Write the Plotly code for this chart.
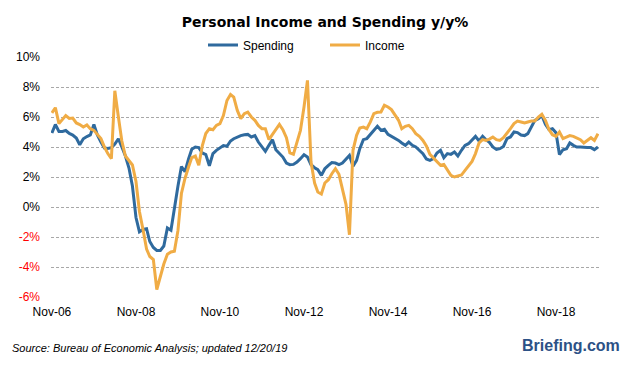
import pandas as pd
import plotly.graph_objects as go

# Monthly observations, Nov-2006 .. Nov-2019
months = pd.date_range("2006-11-01", "2019-11-01", freq="MS")

spending = [
    4.93, 5.5, 5.04, 5.04, 5.1, 4.9, 4.8, 4.6, 4.15, 4.55,
    4.7, 4.8, 5.5, 4.8, 4.33, 3.93, 3.9, 3.95, 4.2, 4.55,
    4.0, 3.4, 2.6, 1.4, -0.7, -1.65, -1.5, -1.45, -2.3, -2.7,
    -2.9, -2.9, -2.6, -1.4, -1.55, 0.0, 1.4, 2.7, 2.35, 3.2,
    3.85, 4.0, 3.96, 3.6, 3.5, 2.75, 3.56, 3.78, 3.96, 4.1,
    4.05, 4.4, 4.55, 4.67, 4.76, 4.82, 4.84, 4.67, 4.76, 4.33,
    4.0, 3.71, 4.11, 4.49, 3.82, 3.6, 3.33, 2.93, 2.82, 2.84,
    3.0, 3.22, 3.49, 3.33, 2.82, 2.62, 2.49, 2.11, 2.55, 2.78,
    2.96, 2.93, 2.82, 2.93, 3.22, 3.44, 2.71, 3.11, 3.89, 4.49,
    4.56, 4.84, 5.11, 5.38, 5.11, 5.18, 4.84, 4.71, 4.6, 4.44,
    4.27, 4.11, 4.33, 4.11, 4.0, 3.78, 3.56, 3.2, 3.11, 3.22,
    3.6, 3.78, 3.29, 3.56, 3.51, 3.67, 3.4, 3.78, 4.11, 4.22,
    4.44, 4.71, 4.4, 4.71, 4.49, 4.31, 4.0, 3.84, 3.89, 4.04,
    4.56, 4.67, 5.0, 4.96, 4.8, 4.76, 4.89, 5.33, 5.78, 5.89,
    6.11, 5.51, 5.16, 5.22, 4.95, 3.5, 3.82, 3.89, 4.27, 4.11,
    4.0, 4.0, 3.96, 3.96, 3.96, 3.82, 4.0,
]

income = [
    6.27, 6.62, 5.56, 5.82, 6.1, 5.9, 5.93, 5.6, 5.5, 5.33,
    5.47, 5.22, 5.11, 4.84, 4.56, 4.0, 3.56, 3.22, 7.75, 6.0,
    4.4, 3.4, 3.1, 2.8, 1.7, -0.3, -1.5, -2.8, -3.3, -3.5,
    -5.5, -4.56, -3.8, -3.15, -3.0, -2.95, -1.56, 0.9, 1.9, 2.67,
    3.3, 3.4, 2.78, 4.1, 4.9, 5.22, 5.15, 5.44, 5.56, 6.1,
    7.1, 7.5, 7.33, 6.44, 5.89, 6.22, 6.33, 6.0, 5.78, 5.44,
    5.22, 5.22, 4.49, 4.84, 5.18, 5.51, 5.16, 4.62, 3.6, 3.51,
    4.33, 5.11, 6.67, 8.44, 3.0, 1.6, 1.0, 0.87, 1.6, 1.82,
    2.22, 2.56, 2.18, 1.11, 0.18, -1.85, 3.78, 4.78, 5.27, 5.33,
    5.22, 5.67, 6.22, 6.31, 6.33, 6.78, 6.67, 6.49, 6.11, 5.78,
    5.22, 5.38, 5.44, 5.22, 4.89, 4.71, 4.44, 4.07, 3.51, 3.29,
    3.04, 2.78, 2.84, 2.44, 2.11, 2.0, 2.07, 2.13, 2.44, 2.73,
    3.04, 3.56, 4.27, 4.49, 4.44, 4.53, 4.67, 4.49, 4.44, 4.62,
    4.89, 5.22, 5.56, 5.73, 5.67, 5.6, 5.67, 5.73, 5.73, 6.0,
    6.18, 5.78, 5.16, 4.82, 4.71, 5.0, 4.56, 4.67, 4.76, 4.71,
    4.62, 4.49, 4.27, 4.44, 4.62, 4.44, 4.89,
]

x_tick_dates = ["2006-11-01", "2008-11-01", "2010-11-01", "2012-11-01",
                "2014-11-01", "2016-11-01", "2018-11-01"]
x_tick_labels = ["Nov-06", "Nov-08", "Nov-10", "Nov-12", "Nov-14", "Nov-16", "Nov-18"]
y_tick_vals = [-6, -4, -2, 0, 2, 4, 6, 8, 10]
y_tick_labels = ["<span style='color:#ff0000'>-6%</span>",
                 "<span style='color:#ff0000'>-4%</span>",
                 "<span style='color:#ff0000'>-2%</span>",
                 "0%", "2%", "4%", "6%", "8%", "10%"]

BLUE = "#2f6a9e"
ORANGE = "#f0ac45"

fig = go.Figure()
fig.add_trace(go.Scatter(x=months, y=spending, name="Spending", mode="lines",
                         line=dict(color=BLUE, width=3)))
fig.add_trace(go.Scatter(x=months, y=income, name="Income", mode="lines",
                         line=dict(color=ORANGE, width=3)))

fig.update_layout(
    width=626, height=367,
    margin=dict(l=51, r=27, t=57, b=70, autoexpand=False),
    paper_bgcolor="white", plot_bgcolor="white",
    font=dict(family="Liberation Sans, Arial, sans-serif", size=12, color="#000000"),
    title=dict(text="<b>Personal Income and Spending y/y%</b>",
               x=0.5, xanchor="center", xref="paper",
               y=1 - 22 / 367, yanchor="middle", yref="container",
               font=dict(family="DejaVu Sans, sans-serif", size=14, color="#000000")),
    showlegend=True,
    legend=dict(orientation="h", x=0.5, xanchor="center", y=1.05, yanchor="middle",
                font=dict(size=12, color="#000000"), entrywidth=77,
                bgcolor="rgba(0,0,0,0)"),
    xaxis=dict(range=["2006-10-24", "2019-11-10"], tickvals=x_tick_dates,
               ticktext=x_tick_labels, showgrid=False, zeroline=False,
               showline=False, ticks="", ticklabelstandoff=6, tickfont=dict(size=12)),
    yaxis=dict(range=[-6, 10], tickvals=y_tick_vals, ticktext=y_tick_labels,
               showgrid=True, gridcolor="#a8a8a8", griddash="3px,2px", gridwidth=1,
               zeroline=False, showline=False, ticks="", ticklabelstandoff=10,
               tickfont=dict(size=12)),
)

fig.add_annotation(text="<i>Source: Bureau of Economic Analysis; updated 12/20/19</i>",
                   xref="paper", yref="paper", x=-0.075, y=-0.2125,
                   xanchor="left", yanchor="middle", showarrow=False,
                   font=dict(size=11, color="#000000"))
fig.add_annotation(text="<b>Briefing.com</b>",
                   xref="paper", yref="paper", x=1.042, y=-0.204,
                   xanchor="right", yanchor="middle", showarrow=False,
                   font=dict(family="Liberation Sans, Arial, sans-serif", size=16,
                             color="#2c5186"))

fig.write_html("out.html",
               config={"displayModeBar": False},
               post_script="document.body.style.margin='0';document.body.style.padding='0';")
